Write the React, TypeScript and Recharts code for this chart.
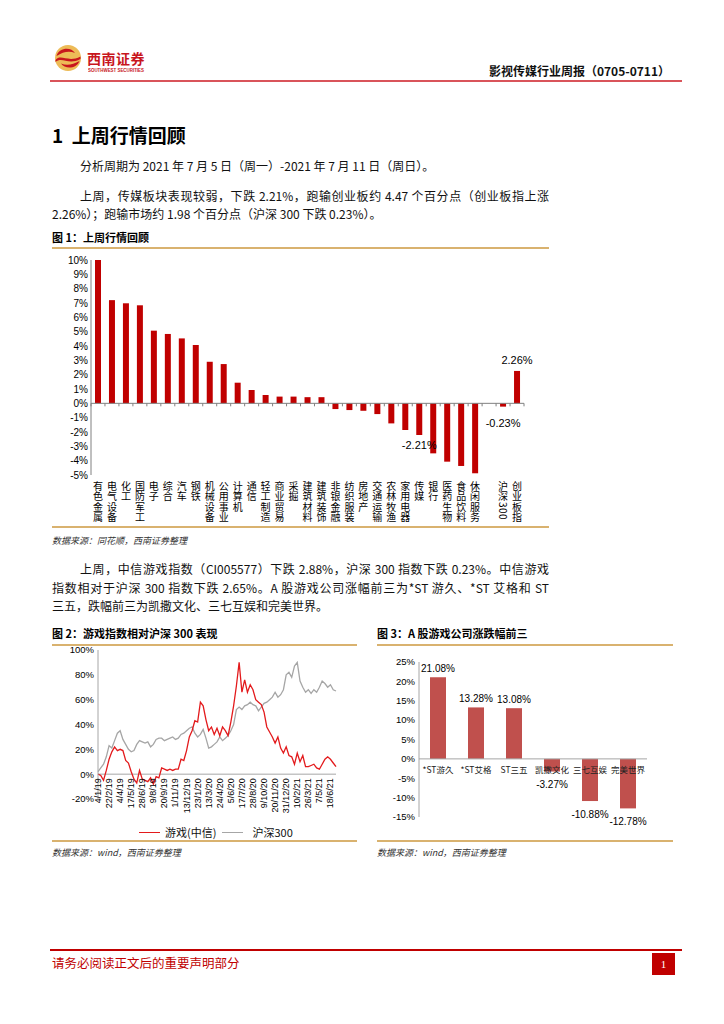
import React from "react";
import { Bar, BarChart, LabelList, Legend, Line, LineChart, ReferenceLine, XAxis, YAxis } from "recharts";

const SANS = '"Liberation Sans", Arial, "Noto Sans CJK SC", sans-serif';
const CJK = '"Noto Sans CJK SC", "Liberation Sans", sans-serif';
const RED = "#C00000";
const GOLD = "#D9B26F";

// 图1：上周行情回顾（周涨跌幅，%）
const industries = [
  "有色金属", "电气设备", "化工", "国防军工", "电子", "综合", "汽车", "钢铁", "机械设备", "公用事业",
  "计算机", "通信", "轻工制造", "商业贸易", "采掘", "建筑材料", "建筑装饰", "非银金融", "纺织服装", "房地产",
  "交通运输", "农林牧渔", "家用电器", "传媒", "银行", "医药生物", "食品饮料", "休闲服务", "", "沪深300", "创业板指",
];
const industryChange = [
  10.0, 7.2, 6.98, 6.84, 5.07, 4.84, 4.53, 4.07, 2.9, 2.74,
  1.44, 0.93, 0.58, 0.47, 0.47, 0.43, 0.43, -0.4, -0.47, -0.52,
  -0.75, -1.4, -1.86, -2.21, -3.49, -4.07, -4.37, -4.88, null, -0.23, 2.26,
];
const labelledIndustries = ["传媒", "沪深300", "创业板指"];
const industryTicks = [10, 9, 8, 7, 6, 5, 4, 3, 2, 1, 0, -1, -2, -3, -4, -5];

// 图2：游戏指数相对沪深300表现（累计涨跌幅，%）
const dateLabels = [
  "4/1/19", "22/2/19", "4/4/19", "17/5/19", "28/6/19", "9/8/19", "20/9/19", "1/11/19", "13/12/19", "23/1/20", "13/3/20",
  "24/4/20", "5/6/20", "17/7/20", "28/8/20", "9/10/20", "20/11/20", "31/12/20", "10/2/21", "26/3/21", "7/5/21", "18/6/21",
];
const gameIndex = [
  0, -1, -5, 3, 12, 18, 22, 19, 20, 19,
  11, 9, 2, -4, -7, 3, -4, -5, -6, -3,
  -8, -2, -3, 5, 4, 3, 4, 3, 4, 4,
  12, 11, 19, 30, 35, 43, 42, 58, 55, 44,
  35, 38, 32, 37, 31, 38, 35, 31, 42, 55,
  71, 90, 66, 76, 66, 72, 68, 60, 58, 56,
  50, 38, 34, 30, 25, 30, 21, 17, 22, 15,
  14, 8, 17, 10, 15, 6, 6, 7, 8, 5,
  4, 8, 12, 14, 12, 9, 6,
];
const hs300Index = [
  2, 5, 8, 14, 23, 21, 27, 33, 35, 28,
  24, 20, 18, 19, 24, 27, 26, 25, 26, 22,
  24, 28, 29, 29, 27, 28, 29, 30, 28, 29,
  32, 33, 35, 37, 38, 33, 30, 32, 36, 29,
  21, 22, 24, 26, 30, 27, 29, 31, 35, 40,
  52, 54, 52, 55, 56, 58, 56, 55, 51, 54,
  57, 58, 60, 62, 66, 62, 64, 68, 80, 82,
  78, 87, 90, 75, 70, 66, 68, 65, 68, 66,
  70, 75, 73, 70, 72, 68, 67,
];
const fig2Ticks = [100, 80, 60, 40, 20, 0, -20];

// 图3：A股游戏公司涨跌幅前三（%）
const companies = ["*ST游久", "*ST艾格", "ST三五", "凯撒文化", "三七互娱", "完美世界"];
const companyChange = [21.08, 13.28, 13.08, -3.27, -10.88, -12.78];
const fig3Ticks = [25, 20, 15, 10, 5, 0, -5, -10, -15];

const industryRows = industries.map((name, i) => ({
  name,
  value: industryChange[i],
  label: labelledIndustries.includes(name) ? `${(industryChange[i] as number).toFixed(2)}%` : "",
}));
const indexRows = gameIndex.map((g, i) => ({ i, game: g, hs300: hs300Index[i] }));
const PTS_PER_LABEL = 4;
const companyRows = companies.map((name, i) => ({ name, value: companyChange[i], label: `${companyChange[i].toFixed(2)}%` }));

// chart geometry
const F1 = { w: 500, h: 290, top: 10, right: 16, bottom: 10, yw: 51, xh: 55 };
const F1_PLOT_H = F1.h - F1.top - F1.bottom - F1.xh;
const F1_PLOT_W = F1.w - F1.yw - F1.right;
const F1_ZERO = F1.top + (F1_PLOT_H * 10) / 15;

const F2 = { w: 300, h: 200, top: 10, right: 14, yw: 48, xh: 25, lg: 16 };
const F2_PLOT_H = F2.h - F2.top - F2.xh - F2.lg;
const F2_ZERO = F2.top + (F2_PLOT_H * 100) / 120;

const F3 = { w: 290, h: 185, top: 12, right: 13, yw: 49, xh: 18 };
const F3_PLOT_H = F3.h - F3.top - F3.xh;
const F3_ZERO = F3.top + (F3_PLOT_H * 25) / 40;

function IndustryTick(props: any) {
  const { x, payload, index } = props;
  const band = F1_PLOT_W / industries.length;
  const name: string = payload.value || "";
  const y0 = F1.top + F1_PLOT_H + 6;
  return (
    <g>
      <line x1={x - band / 2} x2={x - band / 2} y1={F1_ZERO} y2={F1_ZERO + 3} stroke="#808080" />
      {index === industries.length - 1 && (
        <line x1={x + band / 2} x2={x + band / 2} y1={F1_ZERO} y2={F1_ZERO + 3} stroke="#808080" />
      )}
      {name && (
        <text
          x={x}
          y={y0}
          writingMode="vertical-rl"
          style={{ writingMode: "vertical-rl" } as any}
          letterSpacing={0.5}
          fontSize={10}
          fontFamily={CJK}
          fill="#000"
        >
          {name}
        </text>
      )}
    </g>
  );
}

function IndustryLabel(props: any) {
  const { x, y, width, height, value } = props;
  if (!value) return null;
  const top = Math.min(y, y + height);
  const bottom = Math.max(y, y + height);
  const neg = String(value).startsWith("-");
  const cy = neg ? bottom + (value === "-0.23%" ? 16 : 10) : top - 11;
  return (
    <text x={x + width / 2} y={cy} textAnchor="middle" dominantBaseline="central" fontSize={11} fontFamily={SANS} fill="#000">
      {value}
    </text>
  );
}

function DateTick(props: any) {
  const { x, payload } = props;
  const label = dateLabels[Math.round(payload.value / PTS_PER_LABEL)];
  return (
    <text transform={`translate(${x + 3},${F2_ZERO + 4}) rotate(-90)`} textAnchor="end" fontSize={9} fontFamily={SANS} fill="#000">
      {label}
    </text>
  );
}

function CompanyTick(props: any) {
  const { x, payload } = props;
  return (
    <text x={x} y={F3_ZERO + 10} textAnchor="middle" dominantBaseline="central" fontSize={8.5} fontFamily={CJK} fill="#222">
      {payload.value}
    </text>
  );
}

function CompanyLabel(props: any) {
  const { x, y, width, height, value } = props;
  const top = Math.min(y, y + height);
  const bottom = Math.max(y, y + height);
  const neg = String(value).startsWith("-");
  return (
    <text x={x + width / 2} y={neg ? bottom + 13 : top - 9} textAnchor="middle" dominantBaseline="central" fontSize={10} fontFamily={SANS} fill="#000">
      {value}
    </text>
  );
}

function Txt({ x, y, w, size = 12, justify, bold, color = "#111", family = CJK, italic, children }: any) {
  return (
    <div
      style={{
        position: "absolute",
        left: x,
        top: y - size * 0.75,
        width: w,
        height: size * 1.5,
        lineHeight: `${size * 1.5}px`,
        fontSize: size,
        fontFamily: family,
        fontWeight: bold ? 700 : 400,
        fontStyle: italic ? "italic" : "normal",
        color,
        whiteSpace: "nowrap",
        textAlign: justify ? "justify" : "left",
        textAlignLast: justify ? "justify" : "auto",
      }}
    >
      {children}
    </div>
  );
}

function Rule({ x, y, w, color, h = 2 }: any) {
  return <div style={{ position: "absolute", left: x, top: y - h / 2, width: w, height: h, background: color }} />;
}

function Logo() {
  return (
    <>
      <svg width={28} height={28} viewBox="0 0 28 28" style={{ position: "absolute", left: 54, top: 44 }}>
        <circle cx={14} cy={14} r={13} fill="#EDBB57" />
        <path d="M2.5 12 C 5 3.5, 17 2.5, 21 9 C 15 6.5, 9 8, 2.5 12 Z" fill="#C8161D" />
        <path d="M1.5 16 C 7 9.5, 14 19, 26.5 12.5 L 26.5 15 C 14 21.5, 8 12, 1.5 18 Z" fill="#C8161D" />
        <path d="M25.5 17 C 22.5 25, 11 25.5, 7 19.5 C 13 22, 19 20.5, 25.5 17 Z" fill="#C8161D" />
      </svg>
      <svg width={60} height={6} style={{ position: "absolute", left: 88, top: 67 }}>
        <text x={0} y={10} transform="scale(0.5)" fontSize={9} fontWeight={700} fontFamily={SANS} fill="#C8161D" textLength={112} lengthAdjust="spacingAndGlyphs">
          SOUTHWEST SECURITIES
        </text>
      </svg>
    </>
  );
}

export default function App() {
  const axisTick = { fontSize: 10, fontFamily: SANS, fill: "#000" };
  return (
    <div style={{ position: "absolute", left: 0, top: 0, width: 724, height: 1024, background: "#fff", overflow: "hidden" }}>
      {/* header */}
      <Logo />
      <div style={{ position: "absolute", left: 87, top: 49, lineHeight: "18px", fontFamily: CJK, fontWeight: 700, fontSize: 14, color: "#C8161D", letterSpacing: 0.5 }}>
        西南证券
      </div>
      <div style={{ position: "absolute", right: 54, top: 62, fontFamily: CJK, fontWeight: 700, fontSize: 12, color: "#111" }}>
        影视传媒行业周报（0705-0711）
      </div>
      <Rule x={50} y={81} w={632} color="#D9545A" />

      {/* section text */}
      <Txt x={52} y={135} size={19} bold color="#000">1&nbsp;&nbsp;上周行情回顾</Txt>
      <Txt x={80} y={166}>分析周期为 2021 年 7 月 5 日（周一）-2021 年 7 月 11 日（周日）。</Txt>
      <Txt x={80} y={196} w={469} justify>上周，传媒板块表现较弱，下跌 2.21%，跑输创业板约 4.47 个百分点（创业板指上涨</Txt>
      <Txt x={52} y={214}>2.26%）；跑输市场约 1.98 个百分点（沪深 300 下跌 0.23%）。</Txt>

      {/* figure 1 */}
      <Txt x={52} y={237} size={11} bold color="#000">图 1：上周行情回顾</Txt>
      <Rule x={52} y={248} w={497} color={GOLD} />
      <div style={{ position: "absolute", left: 40, top: 250 }}>
        <BarChart width={F1.w} height={F1.h} data={industryRows} margin={{ top: F1.top, right: F1.right, bottom: F1.bottom, left: 0 }}>
          <XAxis dataKey="name" interval={0} height={F1.xh} axisLine={false} tickLine={false} tick={<IndustryTick />} />
          <YAxis
            width={F1.yw}
            domain={[-5, 10]}
            ticks={industryTicks}
            interval={0}
            tickFormatter={(v: number) => `${v}%`}
            axisLine={{ stroke: "#808080" }}
            tickLine={false}
            tickSize={0}
            tickMargin={3}
            tick={axisTick}
          />
          <ReferenceLine y={0} stroke="#808080" />
          <Bar dataKey="value" fill={RED} barSize={6} isAnimationActive={false}>
            <LabelList dataKey="label" content={<IndustryLabel />} />
          </Bar>
        </BarChart>
      </div>
      <Rule x={52} y={527} w={497} color={GOLD} />
      <Txt x={52} y={541} size={9} italic color="#333">数据来源：同花顺，西南证券整理</Txt>

      <Txt x={80} y={569} w={469} justify>上周，中信游戏指数（CI005577）下跌 2.88%，沪深 300 指数下跌 0.23%。中信游戏</Txt>
      <Txt x={52} y={588} w={497} justify>指数相对于沪深 300 指数下跌 2.65%。A 股游戏公司涨幅前三为*ST 游久、*ST 艾格和 ST</Txt>
      <Txt x={52} y={606}>三五，跌幅前三为凯撒文化、三七互娱和完美世界。</Txt>

      {/* figure 2 */}
      <Txt x={52} y={633} size={11} bold color="#000">图 2：游戏指数相对沪深 300 表现</Txt>
      <Rule x={52} y={645} w={305} color={GOLD} />
      <div style={{ position: "absolute", left: 50, top: 640 }}>
        <LineChart width={F2.w} height={F2.h} data={indexRows} margin={{ top: F2.top, right: F2.right, bottom: 0, left: 0 }}>
          <XAxis
            type="number"
            dataKey="i"
            domain={[0, gameIndex.length - 1]}
            ticks={dateLabels.map((_, k) => k * PTS_PER_LABEL)}
            interval={0}
            height={F2.xh}
            axisLine={false}
            tickLine={false}
            tick={<DateTick />}
          />
          <YAxis
            width={F2.yw}
            domain={[-20, 100]}
            ticks={fig2Ticks}
            interval={0}
            tickFormatter={(v: number) => `${v}%`}
            axisLine={{ stroke: "#A6A6A6" }}
            tickLine={false}
            tickSize={0}
            tickMargin={4}
            tick={{ ...axisTick, fontSize: 9.5 }}
          />
          <ReferenceLine y={0} stroke="#A6A6A6" />
          <Legend
            verticalAlign="bottom"
            align="left"
            wrapperStyle={{ left: 0, width: F2.w, height: F2.lg }}
            content={() => (
              <div style={{ display: "flex", alignItems: "center", height: F2.lg, paddingLeft: 89, fontFamily: CJK, fontSize: 11, color: "#111" }}>
                <span style={{ width: 21, borderTop: "1.5px solid #E31A1C", marginRight: 5 }} />
                <span>游戏(中信)</span>
                <span style={{ width: 21, borderTop: "1.5px solid #A6A6A6", marginLeft: 6, marginRight: 9 }} />
                <span>沪深300</span>
              </div>
            )}
          />
          <Line dataKey="hs300" stroke="#A6A6A6" strokeWidth={1.3} dot={false} isAnimationActive={false} />
          <Line dataKey="game" stroke="#E31A1C" strokeWidth={1.3} dot={false} isAnimationActive={false} />
        </LineChart>
      </div>
      <Rule x={52} y={841} w={305} color={GOLD} />
      <Txt x={52} y={853} size={9} italic color="#333">数据来源：wind，西南证券整理</Txt>

      {/* figure 3 */}
      <Txt x={377} y={633} size={11} bold color="#000">图 3：A 股游戏公司涨跌幅前三</Txt>
      <Rule x={377} y={645} w={296} color={GOLD} />
      <div style={{ position: "absolute", left: 370, top: 650 }}>
        <BarChart width={F3.w} height={F3.h} data={companyRows} margin={{ top: F3.top, right: F3.right, bottom: 0, left: 0 }}>
          <XAxis dataKey="name" interval={0} height={F3.xh} axisLine={false} tickLine={false} tick={<CompanyTick />} />
          <YAxis
            width={F3.yw}
            domain={[-15, 25]}
            ticks={fig3Ticks}
            interval={0}
            tickFormatter={(v: number) => `${v}%`}
            axisLine={{ stroke: "#A6A6A6" }}
            tickLine={false}
            tickSize={0}
            tickMargin={4}
            tick={{ ...axisTick, fontSize: 9.5 }}
          />
          <ReferenceLine y={0} stroke="#A6A6A6" />
          <Bar dataKey="value" fill="#C0504D" barSize={16} isAnimationActive={false}>
            <LabelList dataKey="label" content={<CompanyLabel />} />
          </Bar>
        </BarChart>
      </div>
      <Rule x={377} y={841} w={296} color={GOLD} />
      <Txt x={377} y={853} size={9} italic color="#333">数据来源：wind，西南证券整理</Txt>

      {/* footer */}
      <Rule x={50} y={950} w={632} color={RED} />
      <Txt x={52} y={963} size={12.5} color={RED}>请务必阅读正文后的重要声明部分</Txt>
      <div
        style={{
          position: "absolute",
          left: 652,
          top: 953,
          width: 23,
          height: 22,
          background: RED,
          color: "#fff",
          fontFamily: '"Liberation Serif", serif',
          fontSize: 11,
          lineHeight: "22px",
          textAlign: "center",
        }}
      >
        1
      </div>
    </div>
  );
}
